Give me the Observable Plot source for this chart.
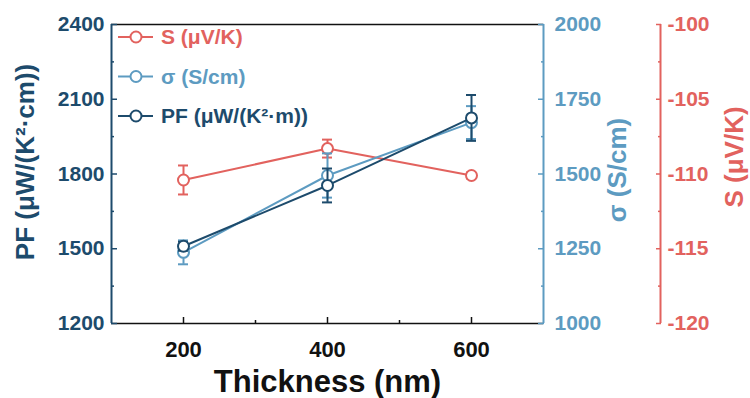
<!DOCTYPE html>
<html><head><meta charset="utf-8">
<script src="https://cdn.jsdelivr.net/npm/d3@7"></script>
<script src="https://cdn.jsdelivr.net/npm/@observablehq/plot@0.6"></script>
<style>body{margin:0;background:#fff}</style>
</head><body><div id="chart"></div>
<script>
const thickness = [200, 400, 600];
const pfValues = [1510, 1754, 2025];
const pfErrors = [18, 68, 92];
const sigmaValues = [1238, 1495, 1672];
const sigmaErrors = [40, 74, 55];
const seebeckValues = [-110.4, -108.3, -110.1];
const seebeckErrors = [0.97, 0.6, 0.2];

const xTicks = [200, 400, 600];
const xMinor = [300, 500];
const pfTicks = [1200, 1500, 1800, 2100, 2400];
const pfMinor = [1350, 1650, 1950, 2250];
const sigmaTicks = [1000, 1250, 1500, 1750, 2000];
const sigmaMinor = [1125, 1375, 1625, 1875];
const seebeckTicks = [-120, -115, -110, -105, -100];
const seebeckMinor = [-117.5, -112.5, -107.5, -102.5];
const xDomain = [100, 700];
const pfDomain = [1200, 2400];

const legendLabels = ["S (μV/K)", "σ (S/cm)", "PF (μW/(K²·m))"];
const colPF = "#1d4b6c", colSigma = "#5d9bc1", colS = "#e2625e";
const legendColors = [colS, colSigma, colPF];

// map secondary quantities onto the PF (left) scale
const sigmaToPF = s => 1200 + (s - 1000) * 1.2;
const pfToSigma = v => 1000 + (v - 1200) / 1.2;
const sToPF = s => 1200 + (s + 120) * 60;
const pfToS = v => -120 + (v - 1200) / 60;

const series = [
  {name: "S", color: colS, vals: seebeckValues, errs: seebeckErrors, f: sToPF},
  {name: "sigma", color: colSigma, vals: sigmaValues, errs: sigmaErrors, f: sigmaToPF},
  {name: "PF", color: colPF, vals: pfValues, errs: pfErrors, f: v => v}
];

const FONT = "Liberation Sans, Arial, sans-serif";
const marks = [];
// frame lines
marks.push(Plot.ruleY(pfDomain, {stroke: "#111", strokeWidth: 1.5}));
marks.push(Plot.ruleX([xDomain[0]], {stroke: colPF, strokeWidth: 2}));
marks.push(Plot.ruleX([xDomain[1]], {stroke: colSigma, strokeWidth: 2}));
marks.push(Plot.ruleX([xDomain[1]], {y1: pfDomain[0], y2: pfDomain[1], dx: 117, stroke: colS, strokeWidth: 2}));

// axes
marks.push(Plot.axisX({ticks: xTicks, tickSize: -6, tickPadding: 24, fontSize: 22, fontWeight: "bold", color: "#111", label: null, strokeWidth: 1.5}));
marks.push(Plot.axisX({ticks: xMinor, tickSize: -3, tickFormat: () => "", color: "#111", label: null, strokeWidth: 1.5}));
marks.push(Plot.axisY({ticks: pfTicks, tickFormat: v => String(v), tickSize: -6, tickPadding: 13, fontSize: 21, fontWeight: "bold", color: colPF, label: null, strokeWidth: 1.5}));
marks.push(Plot.axisY({ticks: pfMinor, tickSize: -3, tickFormat: () => "", color: colPF, label: null, strokeWidth: 1.5}));
marks.push(Plot.axisY({anchor: "right", ticks: sigmaTicks.map(sigmaToPF), tickFormat: v => String(Math.round(pfToSigma(v))), tickSize: -6, tickPadding: 17, fontSize: 21, fontWeight: "bold", color: colSigma, label: null, strokeWidth: 1.5}));
marks.push(Plot.axisY({anchor: "right", ticks: sigmaMinor.map(sigmaToPF), tickSize: -3, tickFormat: () => "", color: colSigma, label: null, strokeWidth: 1.5}));
marks.push(Plot.axisY({anchor: "right", dx: 117, ticks: seebeckTicks.map(sToPF), tickFormat: v => String(Math.round(pfToS(v))), tickSize: -5, tickPadding: 12, fontSize: 21, fontWeight: "bold", color: colS, label: null, strokeWidth: 1.5}));
marks.push(Plot.axisY({anchor: "right", dx: 117, ticks: seebeckMinor.map(sToPF), tickSize: -3, tickFormat: () => "", color: colS, label: null, strokeWidth: 1.5}));

// titles
marks.push(Plot.text(["Thickness (nm)"], {frameAnchor: "bottom", dy: 59, textAnchor: "middle", lineAnchor: "middle", fontSize: 31, fontWeight: "bold", fill: "#111"}));
marks.push(Plot.text(["PF (μW/(K²·cm))"], {frameAnchor: "left", dx: -86, dy: -12, rotate: -90, textAnchor: "middle", lineAnchor: "middle", fontSize: 26, fontWeight: "bold", fill: colPF}));
marks.push(Plot.text(["σ (S/cm)"], {frameAnchor: "right", dx: 74, dy: -4, rotate: -90, textAnchor: "middle", lineAnchor: "middle", fontSize: 26, fontWeight: "bold", fill: colSigma}));
marks.push(Plot.text(["S (μV/K)"], {frameAnchor: "right", dx: 191, dy: -17, rotate: -90, textAnchor: "middle", lineAnchor: "middle", fontSize: 26, fontWeight: "bold", fill: colS}));

// data
for (const s of series) {
  const rows = thickness.map((t, i) => ({x: t, y: s.f(s.vals[i]), lo: s.f(s.vals[i] - s.errs[i]), hi: s.f(s.vals[i] + s.errs[i])}));
  marks.push(Plot.line(rows, {x: "x", y: "y", stroke: s.color, strokeWidth: 2}));
  marks.push(Plot.ruleX(rows, {x: "x", y1: "lo", y2: "hi", stroke: s.color, strokeWidth: 2}));
  marks.push(Plot.ruleY(rows, {y: "hi", x1: "x", x2: "x", insetLeft: -5, insetRight: -5, stroke: s.color, strokeWidth: 2}));
  marks.push(Plot.ruleY(rows, {y: "lo", x1: "x", x2: "x", insetLeft: -5, insetRight: -5, stroke: s.color, strokeWidth: 2}));
  marks.push(Plot.dot(rows, {x: "x", y: "y", r: 5.5, fill: "white", stroke: s.color, strokeWidth: 2}));
}

const chart = Plot.plot({
  width: 750, height: 398,
  marginLeft: 111, marginRight: 207, marginTop: 24, marginBottom: 75,
  x: {domain: xDomain},
  y: {domain: pfDomain},
  style: {fontFamily: FONT, background: "white", overflow: "visible"},
  marks
});

// legend
const svg = d3.select(chart);
const g = svg.append("g");
legendLabels.forEach((lab, i) => {
  const y = 37 + i * 39.5;
  g.append("line").attr("x1", 118).attr("x2", 153).attr("y1", y).attr("y2", y).attr("stroke", legendColors[i]).attr("stroke-width", 2);
  g.append("circle").attr("cx", 136).attr("cy", y).attr("r", 5.5).attr("fill", "white").attr("stroke", legendColors[i]).attr("stroke-width", 2);
  g.append("text").attr("x", 161).attr("y", y).attr("dy", "0.35em").attr("fill", legendColors[i])
    .style("font-family", FONT).style("font-weight", "bold").style("font-size", "21px").style("text-anchor", "start")
    .text(lab);
});
document.getElementById("chart").append(chart);
</script>
</body></html>
